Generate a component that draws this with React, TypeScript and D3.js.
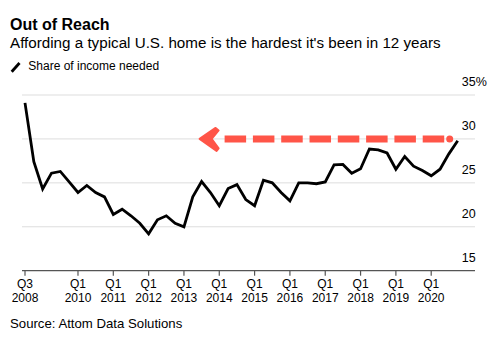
import React from "react";
import * as d3 from "d3";

const quarters: string[] = [];
for (let y = 2008; y <= 2020; y++) for (let q = 1; q <= 4; q++) if (!(y === 2008 && q < 3)) quarters.push(`Q${q} ${y}`);

const shareValues = [
  34.1, 27.4, 24.3, 26.1, 26.3, 25.1, 23.9, 24.7, 23.9, 23.4,
  21.4, 22.0, 21.25, 20.4, 19.2, 20.8, 21.25, 20.4, 20.0, 23.4,
  25.15, 23.9, 22.4, 24.35, 24.8, 23.1, 22.4, 25.3, 25.0, 23.9,
  22.95, 25.0, 25.0, 24.9, 25.1, 27.05, 27.1, 26.1, 26.6, 28.85,
  28.75, 28.4, 26.55, 28.0, 26.9, 26.4, 25.8, 26.55, 28.3, 29.8,
];

const xTickQuarters = [
  "Q3 2008", "Q1 2010", "Q1 2011", "Q1 2012", "Q1 2013", "Q1 2014",
  "Q1 2015", "Q1 2016", "Q1 2017", "Q1 2018", "Q1 2019", "Q1 2020",
];
const yTicks = [15, 20, 25, 30, 35];

const arrowLevel = 30;
const arrowFrom = "Q4 2020";
const arrowTo = "Q3 2013";

const FONT = "'Liberation Sans', Arial, Helvetica, sans-serif";
const RED = "#ff5548";

export default function App() {
  const W = 500, H = 339;
  const x = d3.scalePoint<string>().domain(quarters).range([25, 457.7]);
  const y = d3.scaleLinear().domain([15, 35]).range([270.7, 95]);
  const line = d3
    .line<number>()
    .x((_, i) => x(quarters[i]) as number)
    .y((d) => y(d));

  const ay = y(arrowLevel);
  const tipX = (x(arrowTo) as number) - 2;
  const endX = (x(arrowFrom) as number) - 8;
  const dashStart = tipX + 25;

  return (
    <svg
      width={W}
      height={H}
      style={{ position: "absolute", left: 0, top: 0, background: "#fff" }}
      fontFamily={FONT}
    >
      <text x={10} y={30} fontSize={16} fontWeight="bold" fill="#000">
        Out of Reach
      </text>
      <text x={10} y={48.3} fontSize={15.2} fill="#000">
        Affording a typical U.S. home is the hardest it's been in 12 years
      </text>
      <line x1={11.7} y1={71.7} x2={19.5} y2={63} stroke="#000" strokeWidth={2.8} />
      <text x={28.3} y={70} fontSize={12} fill="#000">
        Share of income needed
      </text>

      {yTicks.map((t) => (
        <g key={t}>
          {t !== 15 && (
            <line x1={22} x2={475} y1={y(t)} y2={y(t)} stroke="#dddddd" strokeWidth={1} />
          )}
          <text x={475.7} y={y(t) - 9} fontSize={12.5} textAnchor="end" fill="#000">
            {t}
          </text>
          {t === 35 && (
            <text x={475.7} y={y(t) - 9} fontSize={12.5} fill="#000">
              %
            </text>
          )}
        </g>
      ))}

      <line x1={22} x2={475} y1={y(15)} y2={y(15)} stroke="#555" strokeWidth={1.2} />
      {xTickQuarters.map((q) => {
        const px = x(q) as number;
        const [qq, yr] = q.split(" ");
        return (
          <g key={q}>
            <line x1={px} x2={px} y1={y(15)} y2={y(15) + 5} stroke="#555" strokeWidth={1.2} />
            <text x={px} y={287.6} fontSize={12} textAnchor="middle" fill="#000">
              {qq}
            </text>
            <text x={px} y={302} fontSize={12} textAnchor="middle" fill="#000">
              {yr}
            </text>
          </g>
        );
      })}

      <line
        x1={dashStart}
        x2={endX}
        y1={ay}
        y2={ay}
        stroke={RED}
        strokeWidth={7}
        strokeDasharray="21.5 6.8"
      />
      <circle cx={endX} cy={ay} r={3.5} fill={RED} />
      <path
        d={`M${tipX},${ay} L${tipX + 16},${ay - 11} L${tipX + 19},${ay - 8.5} L${tipX + 12},${ay} L${tipX + 19},${ay + 9.5} L${tipX + 17},${ay + 12} Z`}
        fill={RED}
        stroke={RED}
        strokeWidth={2}
        strokeLinejoin="round"
      />

      <path
        d={line(shareValues) || ""}
        fill="none"
        stroke="#000"
        strokeWidth={2.8}
        strokeLinejoin="miter"
      />

      <text x={10} y={328} fontSize={13.2} fill="#000">
        Source: Attom Data Solutions
      </text>
    </svg>
  );
}
